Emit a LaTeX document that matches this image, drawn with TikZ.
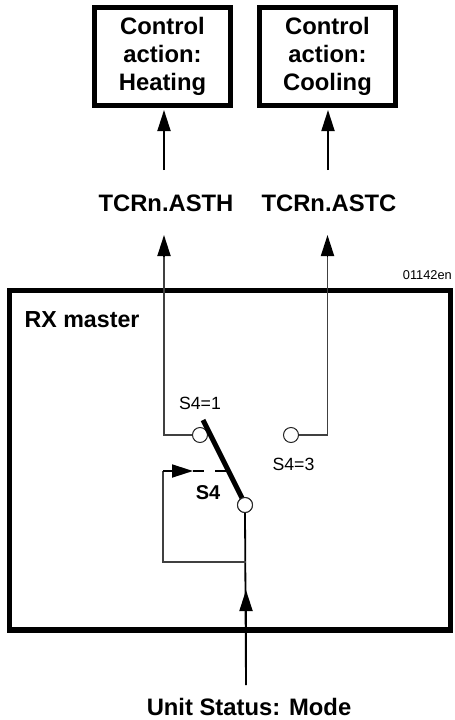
\documentclass[tikz,border=0pt]{standalone}
\usepackage{fontspec}
\setmainfont{Liberation Sans}
\usetikzlibrary{arrows.meta}
\tikzset{x=1pt,y=-1pt,
 boxa/.style={draw=black,line width=4.5pt,minimum width=136pt,minimum height=98pt,inner sep=0pt,align=center,font=\fontsize{23.8}{28}\selectfont\bfseries},
 lab/.style={inner sep=0pt,font=\fontsize{23.8}{28}\selectfont\bfseries},
 small/.style={inner sep=0pt,font=\fontsize{17.7}{20}\selectfont},
 pin/.style={draw=black!85,fill=white,circle,line width=1pt,minimum size=15pt,inner sep=0pt},
 thin line/.style={line width=1.2pt,draw=black!75},
 med/.style={line width=1.8pt},
 tip/.style={-{Triangle[length=21pt,width=13pt]}}}
\begin{document}
\begin{tikzpicture}
\useasboundingbox (0,0) rectangle (455,720);
\node[boxa] (heat) at (162.5,56.5) {Control\\action:\\Heating};
\node[boxa] (cool) at (327.5,56.5) {Control\\action:\\Cooling};
\node[lab] (asth) at (166,203) {TCRn.ASTH};
\node[lab] (astc) at (329,203) {TCRn.ASTC};
\coordinate (ah) at (164,170);
\coordinate (ac) at (328,170);
\draw[med,tip] (ah) -- (164,110);
\draw[med,tip] (ac) -- (328,110);
\node[draw=black,line width=5.3pt,minimum width=441pt,minimum height=339.5pt,inner sep=0pt] (rx) at (230,460.25) {};
\node[inner sep=0pt,font=\fontsize{12.8}{15}\selectfont,anchor=base east] (code) at (452,279) {01142en};
\node[inner sep=0pt,anchor=base west,font=\fontsize{23.2}{28}\selectfont\bfseries] (rxl) at (24.5,327) {RX master};
\node[pin] (p1) at (200,435) {};
\node[pin] (p3) at (291,435) {};
\node[pin] (p0) at (245,505) {};
\coordinate (c1) at (164,435);
\coordinate (c3) at (327.5,435);
\coordinate (t1) at (164,235);
\coordinate (t3) at (327.5,235);
\draw[thin line] (p1.west) -- (c1) -- (164,256);
\draw[med,tip] (164,256) -- (t1);
\draw[thin line] (p3.east) -- (c3) -- (327.5,256);
\draw[med,tip] (327.5,256) -- (t3);
\node[small] (s1) at (200,403) {S4=1};
\node[small] (s3) at (293.5,464) {S4=3};
\node[inner sep=0pt,font=\fontsize{20}{24}\selectfont\bfseries] (s4) at (208,493) {S4};
\coordinate (b) at (246,685);
\coordinate (j) at (246,562);
\draw[med] (b) -- (p0.south);
\draw[med,tip] (b) -- (246,590);
\draw[thin line] (j) -- (163,562) -- (163,471);
\draw[med,tip] (163,471) -- (193,471);
\draw[med] (193,471) -- (204,471) (215,471) -- (230,471);
\draw[line width=5pt] (203,420) -- (242,498);
\node[pin] at (p0) {};
\node[lab] (us) at (249,707) {Unit Status: Mode};
\end{tikzpicture}
\end{document}
